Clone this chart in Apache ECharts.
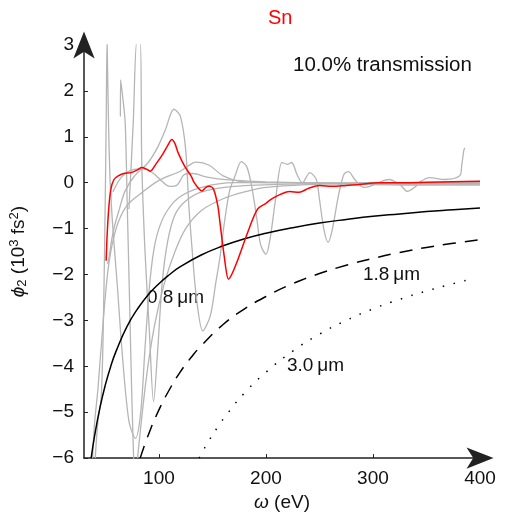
<!DOCTYPE html>
<html><head><meta charset="utf-8">
<script src="https://cdn.jsdelivr.net/npm/echarts@6/dist/echarts.min.js"></script>
<style>html,body{margin:0;padding:0;background:#fff}#c{width:506px;height:517px}</style>
</head><body><div id="c"></div>
<script>
// tick labels
const xTicks = [100, 200, 300, 400];
const yTicks = [-6, -5, -4, -3, -2, -1, 0, 1, 2, 3];

// thin-film reference curves (omega in eV, phi2 in 10^3 fs^2)
const film08 = [[36.7,-6.0],[40,-5.5],[45,-4.89],[50,-4.4],[55,-4.0],[60,-3.67],[70,-3.14],[80,-2.75],[90,-2.44],[100,-2.2],[110,-2.0],[120,-1.83],[140,-1.57],[160,-1.375],[180,-1.22],[200,-1.1],[225,-0.98],[250,-0.88],[275,-0.8],[300,-0.73],[325,-0.68],[350,-0.63],[375,-0.59],[400,-0.55]];
const film18 = [[82.5,-6.0],[90,-5.5],[100,-4.95],[110,-4.5],[120,-4.12],[130,-3.81],[140,-3.54],[160,-3.09],[180,-2.75],[200,-2.48],[225,-2.2],[250,-1.98],[275,-1.8],[300,-1.65],[325,-1.52],[350,-1.41],[375,-1.32],[400,-1.24]];
const film30 = [[137.5,-6.0],[145,-5.69],[155,-5.32],[165,-5.0],[180,-4.58],[200,-4.13],[225,-3.67],[250,-3.3],[275,-3.0],[300,-2.75],[325,-2.54],[350,-2.36],[375,-2.2],[392,-2.1]];

// Sn (highlighted)
const snCurve = [[50.7,-1.70],[51.5,-1.2],[53,-0.6],[55,-0.15],[58,0.07],[62,0.15],[67,0.2],[74,0.22],[80,0.28],[84,0.33],[88,0.30],[92,0.25],[97,0.4],[103,0.6],[108,0.8],[112,0.94],[115,0.85],[118,0.65],[124,0.36],[130,0.15],[133,0.0],[138,-0.15],[140,-0.18],[144,-0.1],[147,-0.08],[151,-0.14],[155,-0.5],[157,-0.86],[161,-1.6],[165,-2.1],[168,-2.0],[174,-1.66],[183,-1.08],[192,-0.58],[200,-0.45],[205,-0.36],[214,-0.25],[222,-0.19],[231,-0.21],[240,-0.12],[250,-0.06],[262,-0.08],[275,-0.06],[287,-0.04],[305,0.0],[320,0.0],[350,0.01],[375,0.02],[400,0.03]];

// other elements (grey)
const grayA = [[52,-1.77],[53.5,-1.62],[56,-1.23],[59,-0.9],[63,-0.58],[68,-0.2],[77,0.14],[90,0.44],[99,0.78],[106,1.15],[114,1.6],[120,1.45],[125,0.72],[128,-0.52],[131,-1.45],[135,-2.5],[141,-3.23],[148,-2.9],[153,-2.2],[157,-1.63],[161,-0.9],[166,-0.18],[171,0.14],[177,0.46],[182,0.35],[186,0.0],[191,-0.7],[195,-1.35],[200,-1.56],[204,-1.2],[209,-0.36],[215,0.44],[220,0.40],[224,0.44],[229,0.18],[234,0.0],[241,0.22],[247,0.07],[250,-0.36],[254,-1.0],[258,-1.3],[262,-1.02],[268,-0.25],[273,0.19],[277,0.24],[283,0.07],[291,-0.1],[297,-0.08],[305,0.0],[315,0.07],[326,-0.06],[332,-0.19],[340,-0.08],[344,0.02],[353,0.11],[367,0.07],[381,0.15],[383,0.39],[385,0.72],[386,0.76]];
const grayB = [[40.5,-6.0],[43,-5.2],[46,-4.7],[47.8,-3.4],[49.5,-1.0],[50.8,1.5],[51.6,3.1],[52.2,3.1],[53,1.2],[54.5,0.0],[57,-1.0],[61,-2.2],[66,-3.8],[72,-5.2],[78,-5.57],[83,-5.0],[87,-3.6],[91,-2.3],[95,-1.5],[100,-1.0],[108,-0.6],[120,-0.3],[140,-0.1],[170,0.0],[220,0.0],[280,-0.03],[340,-0.05],[400,-0.05]];
const grayC = [[64,1.44],[64.2,2.24],[66,1.9],[68.5,1.3],[70.5,-0.58],[72.5,-2.5],[74.5,-4.5],[76.5,-6.1]];
const grayD = [[72,-0.58],[76,1.3],[79.5,3.1],[82.5,3.1],[84,0.43],[87,-1.5],[91,-3.2],[95,-4.77],[99,-3.6],[103,-2.2],[108,-1.3],[115,-0.7],[125,-0.4],[140,-0.2],[170,-0.08],[220,-0.03],[300,-0.02],[400,-0.02]];
const grayE = [[57,-0.2],[65,0.12],[75,0.28],[85,0.3],[95,0.2],[102,0.05],[110,-0.08],[117,-0.05],[124,0.18],[132,0.2],[145,0.12],[165,0.06],[200,0.02],[260,-0.01],[330,-0.03],[400,-0.03]];
const grayF = [[38,-6.0],[40,-5.2],[43,-4.5],[48,-3.0],[53,-1.8],[60,-1.0],[70,-0.5],[85,-0.2],[100,0.05],[120,0.25],[135,0.45],[147,0.38],[160,0.15],[180,0.02],[230,0.0],[300,-0.01],[400,-0.01]];
const grayG = [[80,-6.0],[88,-4.3],[96,-3.1],[105,-2.2],[115,-1.5],[125,-1.0],[140,-0.6],[160,-0.35],[180,-0.2],[200,-0.1],[240,-0.04],[300,0.0],[400,0.0]];

const GRAY = '#b5b5b5';
const FONT = 'Liberation Sans';

function grey(d){ return {type:'line', data:d, showSymbol:false, smooth:0.3, lineStyle:{color:GRAY, width:1.3}, z:2, silent:true}; }

const chart = echarts.init(document.getElementById('c'), null, {renderer:'canvas'});
const fmt = v => (v < 0 ? '\u2212' + (-v) : String(v));
chart.setOption({
  animation:false,
  backgroundColor:'#fff',
  textStyle:{fontFamily:FONT},
  grid:{left:82, right:26, top:45, bottom:57, containLabel:false},
  xAxis:{type:'value', min:30, max:400,
    name:'{i|ω} (eV)', nameLocation:'middle', nameGap:34,
    nameTextStyle:{fontFamily:FONT, fontSize:19, color:'#111', rich:{i:{fontStyle:'italic', fontFamily:FONT, fontSize:19}}},
    axisLine:{show:true, onZero:false, symbol:['none','arrow'], symbolSize:[16,27], symbolOffset:[0,13.5], lineStyle:{color:'#222', width:1.5}},
    axisTick:{show:true, inside:true, length:4, customValues:xTicks, lineStyle:{color:'#222'}},
    axisLabel:{customValues:xTicks, fontFamily:FONT, fontSize:19, color:'#111', margin:11},
    splitLine:{show:false}},
  yAxis:{type:'value', min:-6, max:3, interval:1,
    name:'{i|ϕ}{sub|2} (10{sup|3} fs{sup|2})', nameLocation:'middle', nameGap:55, nameRotate:90,
    nameTextStyle:{fontFamily:FONT, fontSize:19, color:'#111', rich:{
      i:{fontStyle:'italic', fontFamily:FONT, fontSize:19},
      sub:{fontFamily:FONT, fontSize:13, verticalAlign:'bottom', padding:[8,0,0,0]},
      sup:{fontFamily:FONT, fontSize:13, verticalAlign:'top', padding:[0,0,8,0]}}},
    axisLine:{show:true, onZero:false, symbol:['none','arrow'], symbolSize:[16,27], symbolOffset:[0,13.5], lineStyle:{color:'#222', width:1.5}},
    axisTick:{show:true, inside:true, length:4, lineStyle:{color:'#222'}},
    axisLabel:{formatter:fmt, fontFamily:FONT, fontSize:19, color:'#111', margin:10},
    splitLine:{show:false}},
  series:[
    grey(grayA), grey(grayB), grey(grayC), grey(grayD), grey(grayE), grey(grayF), grey(grayG),
    {type:'line', data:film08, showSymbol:false, smooth:true, lineStyle:{color:'#000', width:1.5}, z:3},
    {type:'line', data:film18, showSymbol:false, smooth:true, lineStyle:{color:'#000', width:1.5, type:[13,9]}, z:3},
    {type:'line', data:film30, showSymbol:false, smooth:true, lineStyle:{color:'#000', width:1.5, type:[1.5,9.5]}, z:3},
    {type:'line', data:snCurve, showSymbol:false, smooth:0.3, lineStyle:{color:'#ff0000', width:1.5}, z:5}
  ],
  graphic:[
    {type:'text', left:268, top:8, style:{text:'Sn', fill:'#ff0000', font:'20px "Liberation Sans"'}},
    {type:'text', left:293, top:55, style:{text:'10.0% transmission', fill:'#111', font:'20.5px "Liberation Sans"'}},
    {type:'text', left:147, top:288, style:{text:'0.8\u2009μm', fill:'#111', font:'19px "Liberation Sans"'}},
    {type:'text', left:363, top:265, style:{text:'1.8\u2009μm', fill:'#111', font:'19px "Liberation Sans"'}},
    {type:'text', left:287, top:356, style:{text:'3.0\u2009μm', fill:'#111', font:'19px "Liberation Sans"'}}
  ]
});
</script></body></html>
